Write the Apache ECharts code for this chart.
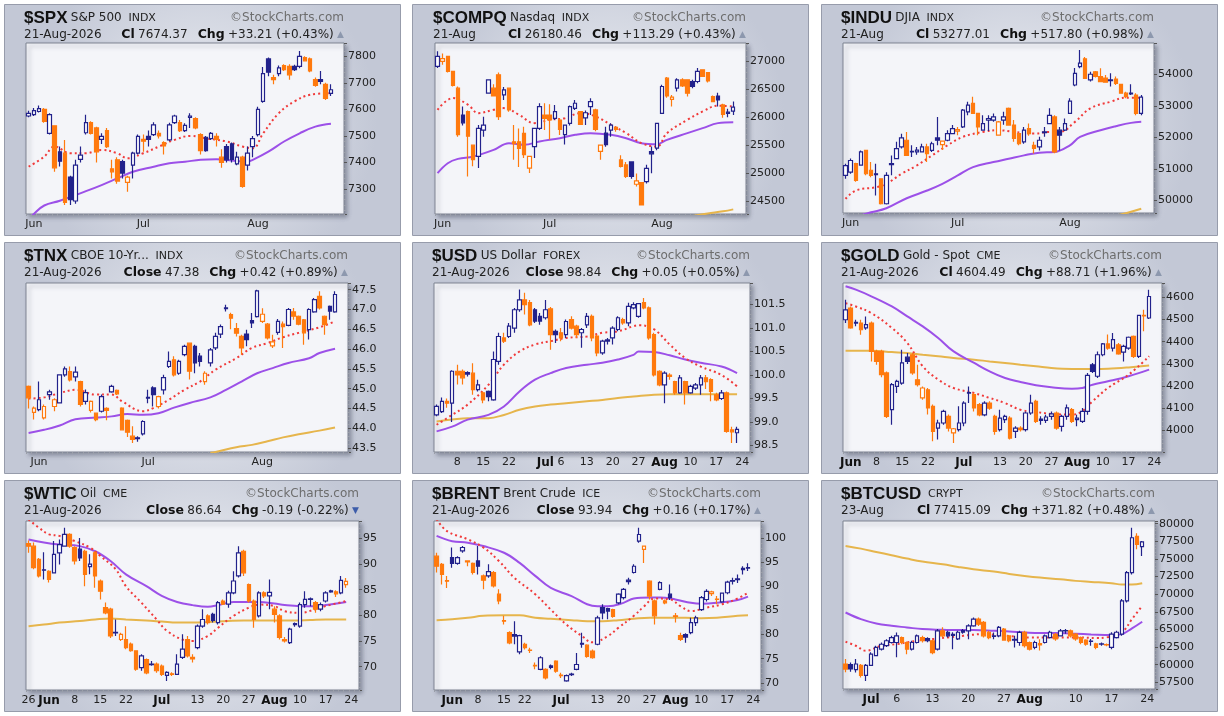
<!DOCTYPE html>
<html>
<head>
<meta charset="utf-8">
<script src="https://cdn.jsdelivr.net/npm/echarts@6/dist/echarts.min.js"></script>
<style>
  html, body { margin: 0; padding: 0; background: #ffffff; }
  #main { width: 1224px; height: 716px; }
</style>
</head>
<body>
<div id="main"></div>
<script>
// candles are [open, close, low, high]; moving averages are [candleIndex, value]
var spxCandles = [
  [7575,7585,7570,7595],[7580,7595,7575,7605],[7592,7603,7588,7615],[7600,7555,7550,7605],[7510,7580,7505,7585],
  [7538,7380,7365,7540],[7440,7405,7385,7460],[7435,7250,7240,7485],[7345,7260,7240,7350],[7255,7390,7245,7410],
  [7412,7428,7400,7460],[7512,7550,7505,7580],[7550,7510,7505,7555],[7530,7440,7400,7535],[7487,7498,7470,7510],
  [7520,7460,7455,7530],[7376,7365,7340,7410],[7410,7330,7320,7420],[7403,7360,7340,7410],[7325,7345,7290,7350],
  [7390,7435,7340,7440],[7435,7498,7430,7505],[7487,7480,7440,7505],[7498,7487,7460,7520],[7505,7542,7500,7552],
  [7510,7500,7490,7520],[7475,7462,7430,7480],[7485,7542,7480,7550],[7550,7575,7545,7580],[7550,7520,7515,7560],
  [7520,7540,7515,7548],[7570,7575,7530,7585],[7565,7530,7525,7570],[7505,7445,7430,7510],[7495,7445,7440,7500],
  [7490,7510,7485,7515],[7498,7487,7460,7510],[7420,7400,7380,7450],[7460,7410,7400,7470],[7470,7412,7400,7475],
  [7395,7420,7390,7440],[7420,7310,7305,7425],[7390,7435,7370,7460],[7460,7490,7420,7500],[7505,7600,7498,7610],
  [7630,7735,7625,7760],[7790,7740,7725,7795],[7720,7712,7695,7730],[7735,7756,7725,7765],[7765,7750,7745,7770],
  [7762,7730,7712,7770],[7762,7750,7745,7768],[7762,7800,7755,7820],[7795,7783,7780,7800],[7790,7745,7740,7795],
  [7712,7690,7685,7720],[7712,7705,7695,7745],[7694,7641,7635,7700],[7660,7674,7650,7695]
];
var spxMa20 = [[0,7384],[3,7422],[5,7460],[8,7435],[11,7435],[14,7447],[17,7435],[19,7416],[22,7435],[25,7460],[28,7485],[31,7500],[34,7491],[38,7479],[41,7460],[43,7454],[45,7510],[48,7586],[51,7630],[54,7655],[58,7661]];
var spxMa50 = [[0,7185],[1,7206],[3,7238],[6,7256],[11,7292],[14,7315],[17,7340],[20,7365],[24,7384],[27,7397],[30,7403],[33,7410],[36,7412],[40,7406],[42,7403],[43,7410],[46,7441],[49,7479],[52,7510],[55,7535],[58,7546]];

var compqCandles = [
  [26910,27090,26880,27180],[27000,27050,26940,27140],[27090,26820,26800,27100],[26820,26570,26550,26830],[26520,25690,25650,26550],
  [26040,25900,25850,26190],[26100,25660,24940,26120],[25500,25240,25120,25510],[25300,25800,25090,25860],[25770,25860,25650,26010],
  [26430,26670,26420,26680],[26520,26380,26370,26590],[26760,26010,25950,26800],[26400,26490,26310,26540],[26520,26130,26100,26530],
  [25560,25525,25240,25860],[25560,25440,25110,25800],[25710,25330,25270,25830],[25090,25300,25000,25310],[25475,25800,25270,25810],
  [25800,26190,25770,26250],[26040,25980,25770,26250],[26040,25950,25600,26230],[25980,26100,25950,26220],[25950,25780,25680,25980],
  [25690,25860,25510,25870],[25890,26190,25850,26210],[26160,26250,26130,26310],[26100,25870,25860,26110],[25990,26080,25860,26120],
  [26190,26280,26040,26340],[26130,25780,25750,26150],[25390,25500,25240,25510],[25715,25510,25470,25830],[25770,25860,25650,25890],
  [25820,25780,25740,25840],[25235,25120,25100,25320],[25145,24940,24910,25200],[25200,24940,24900,25210],[24800,24860,24760,24990],
  [24830,24430,24420,24840],[24845,25085,24815,25150],[25385,25345,24995,25475],[25445,25890,25410,25900],[26070,26550,26060,26580],
  [26700,26380,26350,26720],[26320,26360,26190,26400],[26520,26670,26460,26700],[26670,26560,26540,26700],[26670,26430,26370,26680],
  [26640,26550,26520,26670],[26640,26820,26610,26880],[26850,26730,26720,26860],[26800,26650,26620,26810],[26370,26280,26270,26390],
  [26380,26310,26190,26440],[26220,26050,25990,26240],[26090,26067,26000,26150],[26110,26180,26040,26280]
];
var compqMa20 = [[0,26133],[3,26342],[6,26222],[8,26073],[11,26133],[13,26163],[16,26043],[19,25894],[22,25953],[25,25983],[28,26073],[31,26013],[34,25864],[37,25715],[40,25535],[43,25475],[45,25715],[49,25953],[52,26103],[55,26205],[58,26193]];
var compqMa50 = [[0,24997],[2,25176],[4,25254],[7,25296],[11,25415],[14,25535],[17,25505],[20,25565],[24,25625],[27,25685],[30,25715],[34,25685],[37,25625],[40,25535],[43,25517],[45,25595],[49,25715],[52,25804],[55,25894],[58,25912]];
var compqMa200 = [[50,24230],[53,24275],[56,24315],[58,24350]];

var induCandles = [
  [50800,51110,50690,51170],[50900,51270,50850,51330],[51170,50640,50600,51200],[51120,51540,51100,51590],[51590,50850,50800,51600],
  [50960,50800,50740,51220],[50850,50820,50160,51170],[50690,49900,49880,50700],[49900,50800,49880,50900],[51140,51170,50800,51430],
  [51330,51645,51310,51860],[51700,51985,51650,52120],[51910,51430,51420,52170],[51560,51540,51380,51750],[51540,51600,51450,51700],
  [51540,51700,51530,51800],[51700,51490,51220,51800],[51590,51800,51540,51860],[51985,51910,51750,52650],[51770,51880,51600,51890],
  [51910,52120,51880,52230],[52120,52280,52100,52390],[52200,52250,52070,52330],[52334,52865,52300,52900],[52812,53024,52700,53130],
  [53080,52760,52740,53290],[52760,52330,52070,52770],[52230,52440,52230,52700],[52550,52600,52200,52700],[52550,52650,52500,52760],
  [52070,52490,52050,52520],[52550,52650,52400,52810],[52920,52390,52380,52950],[52390,51970,51860,52550],[52120,51800,51750,52150],
  [51860,52230,51800,52330],[52280,52120,52050,52440],[51750,51650,51490,51860],[51700,51910,51590,52020],[52150,52180,52020,52330],
  [52440,52700,52420,52920],[52650,51540,51500,52700],[52230,52070,51590,52330],[52230,52440,52200,52600],[52760,53150,52740,53240],
  [53660,54030,53620,54200],[54240,54350,54190,54770],[54490,53870,53850,54550],[53820,54000,53770,54080],[54080,53930,53900,54100],
  [53930,53770,53750,54190],[53880,53750,53730,53980],[53800,53820,53610,54030],[53850,53710,53660,53930],[53680,53400,53380,53700],
  [53400,53290,53240,53450],[53380,53400,53340,53680],[53340,52760,52700,53400],[52760,53277,52700,53340]
];
var induMa20 = [[0,50053],[2,50318],[6,50424],[8,50530],[11,50849],[14,51114],[17,51432],[20,51750],[23,52016],[27,52175],[30,52228],[33,52175],[37,52122],[40,52175],[42,52175],[45,52493],[48,52918],[52,53130],[55,53257],[58,53257]];
var induMa50 = [[0,49400],[5,49628],[8,49756],[12,50075],[16,50318],[19,50530],[22,50796],[25,51061],[29,51220],[32,51326],[35,51432],[38,51517],[41,51538],[44,51750],[46,52016],[50,52228],[53,52355],[56,52461],[58,52493]];
var induMa200 = [[53,49520],[55,49600],[58,49740]];

var tnxCandles = [
  [45.06,44.77,44.50,45.08],[44.40,44.51,44.22,44.55],[44.47,44.72,44.43,45.18],[44.26,44.55,44.22,44.60],[44.85,44.92,44.72,44.97],
  [44.55,44.72,44.43,44.76],[44.64,45.35,44.63,45.36],[45.35,45.50,45.30,45.56],[45.43,45.22,45.18,45.56],[45.30,45.42,45.18,45.56],
  [45.18,44.60,44.55,45.20],[44.68,44.90,44.60,44.98],[44.45,44.68,44.40,44.70],[44.38,44.22,44.18,44.40],[44.43,44.80,44.40,44.85],
  [44.50,44.45,44.20,44.53],[44.92,45.06,44.90,45.10],[44.96,44.87,44.84,44.98],[44.51,43.96,43.95,44.53],[44.20,43.90,43.78,44.22],
  [43.80,43.72,43.63,44.05],[43.76,43.74,43.66,43.80],[43.86,44.17,43.82,44.20],[44.76,44.78,44.63,44.97],[45.02,44.85,44.55,45.06],
  [44.55,44.80,44.50,44.82],[44.97,45.28,44.85,45.35],[45.56,45.69,45.52,45.94],[45.73,45.35,45.31,45.82],[45.39,45.69,45.35,45.73],
  [45.86,46.07,45.82,46.11],[46.15,45.44,45.23,46.16],[46.07,45.65,45.39,46.11],[45.82,45.69,45.56,45.90],[45.18,45.39,45.10,45.44],
  [45.65,45.98,45.56,46.03],[46.03,46.32,45.98,46.41],[46.38,46.57,46.28,46.62],[47.02,47.04,46.95,47.12],[46.87,46.78,46.50,46.92],
  [46.52,46.40,46.32,46.66],[46.32,46.03,45.86,46.36],[46.38,46.24,46.07,46.49],[46.72,46.66,46.53,46.91],[46.82,47.47,46.80,47.50],
  [46.70,46.88,46.66,47.03],[46.63,46.28,46.24,46.66],[46.08,46.18,46.03,46.36],[46.42,46.70,46.36,46.76],[46.63,46.57,46.03,46.70],
  [46.60,47.00,46.58,47.04],[46.94,46.83,46.74,47.04],[46.83,46.63,46.60,46.85],[46.74,46.41,46.11,46.76],[46.49,47.00,46.24,47.03],
  [46.94,47.25,46.92,47.29],[47.33,47.04,47.00,47.46],[46.83,46.62,46.36,46.85],[47.08,46.96,46.74,47.10],[46.94,47.38,46.92,47.46]
];
var tnxMa20 = [[0,44.75],[3,44.78],[6,44.89],[9,44.97],[13,44.85],[16,44.85],[18,44.68],[22,44.43],[24,44.51],[27,44.72],[30,44.97],[33,45.18],[36,45.48],[40,45.77],[43,46.03],[46,46.15],[49,46.30],[52,46.41],[56,46.55],[59,46.70]];
var tnxMa50 = [[0,43.88],[3,43.96],[6,44.07],[9,44.23],[13,44.27],[16,44.30],[19,44.36],[22,44.34],[25,44.38],[28,44.52],[31,44.64],[35,44.78],[38,44.97],[41,45.18],[44,45.39],[47,45.52],[50,45.65],[54,45.77],[56,45.90],[59,46.01]];
var tnxMa200 = [[35,43.38],[36,43.40],[40,43.52],[43,43.58],[46,43.67],[49,43.77],[52,43.85],[56,43.94],[59,44.02]];

var usdCandles = [
  [99.15,99.33,99.12,99.37],[99.22,99.44,99.19,99.52],[99.44,99.40,99.30,99.50],[99.40,100.08,99.00,100.10],[100.08,100.00,99.80,100.22],
  [100.08,99.94,99.80,100.12],[100.05,100.02,99.97,100.08],[100.04,99.69,99.58,100.25],[99.69,99.79,99.65,99.90],[99.62,99.47,99.40,99.65],
  [99.65,99.54,99.44,99.67],[99.47,100.33,99.45,100.50],[100.29,100.82,100.22,100.90],[100.79,100.72,100.68,100.90],[100.82,101.04,100.79,101.11],
  [101.00,101.39,100.90,101.43],[101.39,101.60,101.35,101.82],[101.60,101.50,101.29,101.75],[101.54,101.07,101.04,101.60],[101.39,101.15,101.11,101.43],
  [101.25,101.15,101.07,101.32],[101.22,101.39,101.18,101.60],[101.41,100.86,100.54,101.45],[100.93,100.86,100.68,100.97],[100.90,100.79,100.72,101.00],
  [100.86,101.14,100.79,101.18],[101.18,101.00,100.97,101.25],[101.04,100.86,100.79,101.07],[100.90,100.97,100.58,101.00],[101.07,101.25,101.00,101.32],
  [101.25,100.79,100.72,101.29],[100.83,100.47,100.40,100.86],[100.47,100.72,100.43,100.75],[100.72,100.75,100.65,100.79],[100.79,101.00,100.65,101.04],
  [100.97,101.22,100.93,101.25],[101.18,101.11,101.07,101.22],[101.11,101.46,101.04,101.54],[101.43,101.50,101.40,101.55],[101.25,101.52,101.22,101.53],
  [101.54,101.43,101.40,101.64],[101.43,100.79,100.75,101.46],[100.86,100.00,99.97,100.90],[100.08,99.79,99.76,100.10],[99.79,100.04,99.40,100.08],
  [100.00,99.97,99.90,100.04],[99.86,99.62,99.58,99.88],[99.62,99.94,99.60,100.00],[99.86,99.62,99.37,99.88],[99.62,99.76,99.60,99.79],
  [99.72,99.79,99.68,99.83],[99.79,99.94,99.58,100.00],[99.94,99.86,99.70,100.00],[99.90,99.65,99.44,99.93],[99.58,99.47,99.44,99.62],
  [99.50,99.62,99.47,99.68],[99.62,98.80,98.77,99.65],[98.83,98.79,98.55,98.90],[98.77,98.84,98.55,98.90]
];
var usdMa20 = [[0,98.94],[3,99.15],[6,99.37],[10,99.79],[13,100.22],[16,100.50],[19,100.65],[22,100.72],[25,100.79],[29,100.82],[32,100.90],[35,100.93],[38,101.04],[39,101.06],[42,100.97],[45,100.65],[48,100.36],[51,100.18],[55,100.00],[58,99.76]];
var usdMa50 = [[0,98.80],[3,98.90],[6,99.05],[10,99.15],[13,99.33],[16,99.65],[19,99.90],[22,100.04],[25,100.15],[29,100.22],[32,100.26],[35,100.33],[38,100.43],[39,100.50],[42,100.49],[45,100.42],[48,100.33],[51,100.26],[55,100.18],[58,100.04]];
var usdMa200 = [[0,99.01],[3,99.05],[6,99.08],[10,99.08],[13,99.15],[16,99.26],[19,99.33],[22,99.37],[25,99.40],[29,99.44],[32,99.47],[35,99.51],[38,99.54],[42,99.58],[45,99.59],[48,99.59],[51,99.59],[55,99.59],[58,99.59]];

var goldCandles = [
  [4499,4544,4484,4589],[4552,4462,4458,4559],[4487,4484,4470,4499],[4484,4454,4431,4499],[4462,4477,4454,4514],
  [4484,4356,4311,4491],[4356,4311,4296,4364],[4356,4251,4240,4364],[4259,4063,4055,4266],[4093,4206,4025,4213],
  [4198,4221,4168,4228],[4213,4304,4206,4364],[4330,4311,4299,4349],[4341,4259,4251,4349],[4228,4206,4198,4296],
  [4146,4191,4138,4198],[4183,4101,4071,4191],[4108,3995,3950,4116],[4010,4033,3958,4048],[4033,4085,4025,4093],
  [4063,4010,3995,4071],[3988,4007,3943,4010],[4003,4033,3995,4108],[4033,4123,4018,4131],[4170,4168,4123,4198],
  [4161,4101,4085,4168],[4116,4070,4063,4123],[4070,4123,4063,4131],[4123,4100,4093,4131],[4063,3995,3980,4070],
  [4003,4055,3995,4093],[4048,4063,4033,4070],[4055,3965,3958,4063],[3995,4010,3965,4018],[4010,4003,3995,4018],
  [4003,4078,3995,4085],[4078,4123,4070,4161],[4131,4040,4033,4138],[4050,4045,4025,4063],[4045,4060,4033,4070],
  [4063,4074,4048,4085],[4078,4010,4003,4085],[4018,4063,3995,4070],[4063,4101,4048,4116],[4093,4040,4033,4101],
  [4048,4055,4018,4070],[4040,4085,4033,4101],[4085,4248,4070,4259],[4296,4266,4259,4304],[4244,4341,4236,4356],
  [4341,4390,4334,4394],[4390,4371,4364,4432],[4371,4409,4356,4439],[4386,4345,4341,4394],[4353,4379,4311,4386],
  [4371,4420,4364,4424],[4424,4334,4326,4428],[4334,4519,4326,4522],[4519,4516,4447,4544],[4507,4604,4502,4635]
];
var goldMa20 = [[0,4574],[2,4559],[5,4529],[9,4462],[12,4394],[15,4289],[18,4229],[21,4191],[25,4168],[28,4146],[31,4123],[34,4093],[37,4083],[40,4074],[44,4071],[46,4086],[48,4131],[51,4191],[55,4251],[59,4334]];
var goldMa50 = [[0,4650],[2,4635],[5,4605],[9,4559],[12,4514],[15,4469],[18,4417],[21,4356],[25,4304],[28,4266],[31,4236],[34,4218],[37,4203],[40,4194],[44,4188],[46,4191],[48,4206],[51,4221],[55,4244],[59,4274]];
var goldMa200 = [[0,4359],[5,4359],[9,4353],[12,4349],[15,4341],[18,4334],[21,4326],[25,4319],[28,4311],[31,4304],[34,4296],[37,4289],[40,4281],[44,4277],[48,4277],[51,4278],[55,4284],[59,4293]];

var wticCandles = [
  [94.0,93.5,92.2,94.6],[93.5,89.3,89.0,94.2],[90.9,87.7,87.4,91.2],[88.9,88.8,87.0,92.3],[88.6,87.0,86.4,88.8],
  [88.3,91.9,88.2,94.5],[92.2,93.8,89.9,94.8],[93.5,95.8,93.4,97.1],[95.8,93.5,93.2,96.0],[93.2,90.6,89.9,93.5],
  [92.9,91.2,90.6,95.1],[92.5,88.0,85.7,92.8],[89.5,90.0,88.0,91.9],[92.2,87.7,85.4,92.5],[86.7,84.7,83.1,87.0],
  [81.5,80.5,80.2,82.5],[81.2,76.0,75.6,81.5],[76.7,76.6,76.0,79.2],[75.3,76.3,75.0,76.6],[75.3,73.7,73.4,77.9],
  [74.4,73.1,72.9,74.7],[73.1,69.5,69.2,73.2],[69.8,72.1,69.2,72.4],[71.4,68.8,68.5,71.6],[70.5,70.4,70.2,71.1],
  [70.5,69.2,68.8,70.8],[70.1,68.5,68.2,70.4],[68.3,68.9,67.2,69.1],[68.6,68.5,68.2,68.9],[68.5,70.5,68.4,72.4],
  [71.8,73.4,71.5,76.3],[75.3,72.1,71.8,76.0],[71.8,71.5,70.8,72.4],[73.7,77.9,73.4,78.2],[77.9,79.2,77.6,81.2],
  [79.9,78.6,78.2,80.2],[80.2,79.0,78.6,80.5],[78.6,82.5,78.2,82.8],[82.8,82.2,82.0,83.1],[82.2,84.4,81.5,84.8],
  [84.4,86.7,84.1,88.6],[87.7,92.2,87.4,93.5],[92.5,88.3,87.7,92.8],[86.0,82.8,82.5,86.2],[82.8,79.2,77.6,83.1],
  [79.9,84.4,79.6,84.7],[84.4,83.8,83.4,84.7],[83.8,84.5,81.2,87.0],[81.2,80.2,78.6,81.8],[79.9,75.7,75.3,80.2],
  [75.3,75.0,74.7,75.8],[74.7,77.3,74.4,77.6],[78.4,78.2,77.8,78.6],[77.9,82.1,77.6,82.5],[82.1,83.1,81.5,84.7],
  [83.2,83.1,81.8,83.5],[82.5,81.2,80.5,82.8],[81.2,82.1,80.8,82.5],[82.8,84.4,82.5,84.7],[84.6,84.8,84.4,85.0],
  [84.6,84.2,83.6,84.9],[84.4,86.83,84.1,87.7],[86.0,86.64,85.4,87.3]
];
var wticMa20 = [[0,98.7],[2,97.1],[4,95.8],[6,95.5],[9,94.5],[12,93.2],[14,91.6],[17,89.0],[19,85.7],[22,82.5],[25,79.2],[27,77.0],[30,75.3],[32,75.0],[35,76.0],[37,77.6],[40,79.9],[43,81.5],[45,82.1],[48,81.8],[50,80.8],[53,80.5],[56,81.2],[58,81.8],[62,82.8]];
var wticMa50 = [[0,94.8],[3,94.2],[6,93.8],[10,93.5],[13,92.5],[16,90.6],[19,88.0],[23,85.7],[26,83.8],[29,82.6],[32,82.0],[35,81.7],[37,82.0],[40,82.6],[43,82.6],[45,82.6],[48,82.3],[50,82.0],[53,81.8],[56,81.8],[58,82.0],[62,82.6]];
var wticMa200 = [[0,77.9],[3,78.2],[6,78.6],[10,78.9],[13,79.2],[16,79.4],[19,79.2],[23,79.0],[26,78.8],[29,78.6],[32,78.6],[35,78.7],[39,78.9],[42,79.0],[45,79.0],[48,79.0],[52,79.0],[55,79.1],[58,79.2],[62,79.2]];

var brentCandles = [
  [96.3,94.2,92.9,97.0],[94.6,92.5,90.4,94.9],[91.2,91.1,89.7,92.2],[96.0,94.8,93.9,98.1],[94.8,96.0,94.5,96.3],
  [97.4,98.1,97.0,98.4],[95.3,95.1,94.2,95.3],[94.8,92.9,92.5,95.0],[95.3,94.2,92.5,98.4],[92.2,91.3,89.4,92.5],
  [92.2,93.1,91.8,94.6],[92.9,90.1,89.8,93.2],[88.4,87.0,86.3,89.4],[82.9,82.8,82.1,83.9],[80.4,78.3,78.0,80.7],
  [80.0,79.7,78.0,82.8],[76.4,79.8,75.9,80.0],[78.0,77.3,76.9,78.3],[76.8,76.7,76.2,77.3],[73.6,73.5,72.8,74.2],
  [72.8,75.2,72.6,75.5],[72.8,71.0,70.7,73.0],[73.5,73.2,72.8,73.8],[74.5,72.4,72.1,74.7],[71.6,71.5,71.0,72.1],
  [70.4,71.5,70.2,71.7],[71.8,71.7,71.4,72.1],[72.8,73.8,72.6,76.2],[78.2,78.0,77.3,80.4],[77.8,75.5,75.2,78.0],
  [76.6,75.2,75.0,76.9],[78.0,83.5,77.8,83.9],[85.6,84.5,83.2,86.3],[85.4,84.9,83.2,85.6],[85.2,83.8,83.5,85.4],
  [86.6,88.4,86.3,88.6],[87.7,89.4,87.3,89.7],[91.3,91.0,90.4,91.8],[92.9,94.2,92.7,94.6],[99.4,100.8,99.1,102.2],
  [97.7,98.4,94.9,98.4],[91.1,88.0,87.3,91.3],[87.0,83.9,82.1,87.3],[89.4,90.8,89.2,91.1],[87.0,86.6,86.3,87.3],
  [88.4,87.7,87.2,90.4],[83.9,83.8,82.5,84.5],[79.8,79.0,78.7,80.4],[80.0,79.5,78.3,80.3],[80.4,82.5,80.1,83.5],
  [82.5,83.5,81.8,83.9],[85.2,87.7,84.9,88.0],[87.3,89.0,86.9,89.4],[88.5,88.9,88.0,89.1],[87.4,87.3,86.3,88.0],
  [86.8,88.6,86.6,88.7],[88.7,90.9,88.4,91.2],[91.2,91.1,90.4,91.8],[91.4,91.6,90.7,92.5],[93.5,93.78,92.5,94.2],
  [93.8,93.94,93.2,94.8]
];
var brentMa20 = [[0,104.0],[2,101.5],[6,99.8],[9,98.1],[12,95.3],[15,91.8],[19,88.4],[22,85.2],[25,82.1],[28,79.7],[30,78.4],[33,79.7],[35,81.4],[38,83.9],[40,85.9],[42,87.5],[45,87.3],[47,85.9],[49,84.9],[52,85.6],[55,86.3],[58,87.5],[60,88.7]];
var brentMa50 = [[0,100.5],[3,99.4],[6,99.1],[9,98.4],[13,97.0],[16,94.9],[19,92.2],[22,89.7],[26,88.0],[29,86.3],[31,85.9],[33,85.9],[36,86.6],[38,87.5],[41,87.7],[43,87.7],[46,87.3],[49,86.6],[51,86.4],[54,86.6],[58,87.2],[60,87.9]];
var brentMa200 = [[0,83.0],[3,83.2],[6,83.5],[9,83.9],[13,84.0],[16,84.0],[19,83.5],[22,83.3],[26,83.0],[29,82.8],[32,82.8],[35,83.0],[38,83.3],[41,83.5],[45,83.5],[48,83.5],[51,83.4],[54,83.5],[58,83.9],[60,84.0]];

var btcCandles = [
  [60094,59387,58915,60802],[60000,59400,59000,60300],[59300,60100,58900,60800],[59900,58500,58200,60100],[58500,59900,57700,60100],
  [59900,61500,59800,61750],[61300,62450,61200,62700],[62200,62900,62000,63150],[62700,63400,62500,63600],[63150,63850,63000,64100],
  [63150,64100,61050,64580],[63850,63150,62900,64000],[63150,62200,61500,63300],[62200,63150,62000,63400],[63150,64100,63000,64300],
  [63850,63400,63150,64100],[63700,63400,63200,63900],[63400,61700,61500,63500],[62200,64800,62000,65050],[64800,64100,63900,65300],
  [64600,64100,63850,64800],[64300,64150,62200,64600],[63650,64600,63500,64800],[64850,64600,64400,65050],[64800,65500,63600,65750],
  [65500,66470,65400,66700],[66470,65750,65500,66700],[66000,64100,63850,66200],[64600,63850,63600,64800],[64000,64100,63600,64580],
  [64100,65300,63900,65500],[65050,63500,63400,65200],[64100,63400,63200,64200],[63500,63600,62450,64100],[63150,64580,62700,64800],
  [64600,62700,62450,64800],[63150,62200,62000,63300],[62450,63150,62200,63400],[63000,62800,62000,63600],[63150,64100,63000,64300],
  [63850,64600,63700,64800],[64300,63650,63400,64500],[64100,64800,64000,65050],[64800,64850,64400,65050],[64800,64100,63850,65000],
  [64350,63650,63400,64500],[63850,63150,62900,64000],[63500,62900,62700,63600],[63350,63300,62700,63650],[62950,62450,62200,63100],
  [62900,62950,62700,63150],[62800,62850,62600,63000],[62450,64350,62200,64600],[63850,64600,63700,64800],[64350,69050,64100,69300],
  [69050,73070,68820,73300],[73070,78000,72800,79430],[78200,77043,76370,78630],[76750,77415,75420,77540]
];
var btcMa20 = [[0,63254],[2,62688],[4,61981],[7,62688],[10,62924],[14,63396],[17,63632],[20,63868],[23,64104],[27,64340],[30,64198],[33,64010],[36,63868],[40,63868],[43,63868],[46,63868],[49,63774],[51,63868],[54,64576],[56,66462],[58,68349]];
var btcMa50 = [[0,67406],[3,66462],[6,65849],[9,65519],[12,65283],[15,65047],[19,64953],[22,64906],[25,64906],[29,64812],[32,64717],[35,64576],[38,64481],[42,64481],[45,64387],[48,64292],[52,64198],[54,64340],[56,65142],[58,66085]];
var btcMa200 = [[0,76840],[3,76462],[6,75990],[9,75519],[12,75047],[15,74623],[19,74245],[22,73868],[25,73538],[29,73208],[32,72877],[35,72594],[38,72358],[42,72123],[45,71887],[48,71745],[52,71557],[54,71368],[56,71368],[58,71557]];

var stockHolidays = ['2026-05-25', '2026-06-19', '2026-07-03'];

var panels = [
  { sym: '$SPX', name: 'S&P 500', exch: 'INDX', date: '21-Aug-2026', lastTag: 'Cl', last: '7674.37', chg: '+33.21 (+0.43%)', up: true,
    start: '2026-05-29', cal: 'stock', hol: stockHolidays, ticks: 'month', ymin: 7206, ymax: 7850, step: 100, dec: 0,
    candles: spxCandles, ma20: spxMa20, ma50: spxMa50, ma200: null, box: [4, 4], grid: [26, 43, 318, 171] },
  { sym: '$COMPQ', name: 'Nasdaq', exch: 'INDX', date: '21-Aug', lastTag: 'Cl', last: '26180.46', chg: '+113.29 (+0.43%)', up: true,
    start: '2026-05-29', cal: 'stock', hol: stockHolidays, ticks: 'month', ymin: 24267, ymax: 27329, step: 500, dec: 0,
    candles: compqCandles, ma20: compqMa20, ma50: compqMa50, ma200: compqMa200, box: [412, 4], grid: [435, 43, 311, 171] },
  { sym: '$INDU', name: 'DJIA', exch: 'INDX', date: '21-Aug', lastTag: 'Cl', last: '53277.01', chg: '+517.80 (+0.98%)', up: true,
    start: '2026-05-29', cal: 'stock', hol: stockHolidays, ticks: 'month', ymin: 49607, ymax: 54990, step: 1000, dec: 0,
    candles: induCandles, ma20: induMa20, ma50: induMa50, ma200: induMa200, box: [821, 4], grid: [843, 43, 311, 170] },
  { sym: '$TNX', name: 'CBOE 10-Yr...', exch: 'INDX', date: '21-Aug-2026', lastTag: 'Close', last: '47.38', chg: '+0.42 (+0.89%)', up: true,
    start: '2026-05-28', cal: 'stock', hol: stockHolidays, ticks: 'month', ymin: 43.4, ymax: 47.67, step: 0.5, dec: 1,
    candles: tnxCandles, ma20: tnxMa20, ma50: tnxMa50, ma200: tnxMa200, box: [4, 242], grid: [26, 283, 322, 169] },
  { sym: '$USD', name: 'US Dollar', exch: 'FOREX', date: '21-Aug-2026', lastTag: 'Close', last: '98.84', chg: '+0.05 (+0.05%)', up: true,
    start: '2026-06-02', cal: 'fx', hol: [], ticks: 'week', ymin: 98.36, ymax: 101.96, step: 0.5, dec: 1,
    candles: usdCandles, ma20: usdMa20, ma50: usdMa50, ma200: usdMa200, box: [412, 242], grid: [434, 283, 316, 169] },
  { sym: '$GOLD', name: 'Gold - Spot', exch: 'CME', date: '21-Aug-2026', lastTag: 'Cl', last: '4604.49', chg: '+88.71 (+1.96%)', up: true,
    start: '2026-05-29', cal: 'fx', hol: ['2026-05-25', '2026-07-03'], ticks: 'week', ymin: 3902, ymax: 4665, step: 100, dec: 0,
    candles: goldCandles, ma20: goldMa20, ma50: goldMa50, ma200: goldMa200, box: [821, 242], grid: [843, 283, 319, 169] },
  { sym: '$WTIC', name: 'Oil', exch: 'CME', date: '21-Aug-2026', lastTag: 'Close', last: '86.64', chg: '-0.19 (-0.22%)', up: false,
    start: '2026-05-26', cal: 'fx', hol: ['2026-05-25', '2026-07-03'], ticks: 'week', ymin: 65.45, ymax: 98.4, step: 5, dec: 0,
    candles: wticCandles, ma20: wticMa20, ma50: wticMa50, ma200: wticMa200, box: [4, 480], grid: [26, 521, 333, 169] },
  { sym: '$BRENT', name: 'Brent Crude', exch: 'ICE', date: '21-Aug-2026', lastTag: 'Close', last: '93.94', chg: '+0.16 (+0.17%)', up: true,
    start: '2026-05-27', cal: 'fx', hol: stockHolidays, ticks: 'week', ymin: 68.5, ymax: 103.6, step: 5, dec: 0,
    candles: brentCandles, ma20: brentMa20, ma50: brentMa50, ma200: brentMa200, box: [412, 480], grid: [434, 521, 327, 169] },
  { sym: '$BTCUSD', name: '', exch: 'CRYPT', date: '23-Aug', lastTag: 'Cl', last: '77415.09', chg: '+371.82 (+0.48%)', up: true,
    start: '2026-06-26', cal: 'crypto', hol: [], ticks: 'week', ymin: 56556, ymax: 80377, step: 2500, dec: 0,
    candles: btcCandles, ma20: btcMa20, ma50: btcMa50, ma200: btcMa200, box: [821, 480], grid: [843, 521, 312, 168] }
];

var NAVY = '#22228c', ORANGE = '#ff7a0e';
var MON = ['Jan', 'Feb', 'Mar', 'Apr', 'May', 'Jun', 'Jul', 'Aug', 'Sep', 'Oct', 'Nov', 'Dec'];
var DAY = 86400000;
var FONT = 'DejaVu Sans';

function isOpen(t, cal, hol) {
  var d = new Date(t);
  if (cal !== 'crypto') {
    var w = d.getUTCDay();
    if (w === 0 || w === 6) return false;
  }
  return hol.indexOf(d.toISOString().slice(0, 10)) < 0;
}
function nextOpen(t, dir, cal, hol) {
  do { t += dir * DAY; } while (!isOpen(t, cal, hol));
  return t;
}
function makeDays(p) {
  var out = [Date.parse(p.start + 'T00:00:00Z')];
  while (out.length < p.candles.length + 2) out.push(nextOpen(out[out.length - 1], 1, p.cal, p.hol));
  return out;
}
function monday(t) { return t - ((new Date(t).getUTCDay() + 6) % 7) * DAY; }

// month names at month starts; in weekly mode also day numbers at week starts
function makeLabels(days, p) {
  var lab = {}, monthIdx = [];
  days.forEach(function (t, i) {
    var prev = i ? days[i - 1] : nextOpen(t, -1, p.cal, p.hol);
    if (new Date(prev).getUTCMonth() !== new Date(t).getUTCMonth()) {
      lab[i] = (p.ticks === 'week' ? '{m|' : '{n|') + MON[new Date(t).getUTCMonth()] + '}';
      monthIdx.push(i);
    }
  });
  if (p.ticks === 'week') {
    days.forEach(function (t, i) {
      var prev = i ? days[i - 1] : nextOpen(t, -1, p.cal, p.hol);
      if (lab[i] || monday(prev) === monday(t)) return;
      for (var k = 0; k < monthIdx.length; k++) if (Math.abs(monthIdx[k] - i) <= 2) return;
      lab[i] = '{n|' + new Date(t).getUTCDate() + '}';
    });
  }
  return lab;
}

function candleItems(rows) {
  return rows.map(function (r, i) {
    var prev = i > 0 ? rows[i - 1][1] : r[0];
    var col = r[1] >= prev ? NAVY : ORANGE;
    var fill = r[1] > r[0] ? '#ffffff' : col;
    return { value: r, itemStyle: { color: fill, color0: fill, borderColor: col, borderColor0: col, borderWidth: 1.2 } };
  });
}

var grids = [], xAxes = [], yAxes = [], series = [], graphics = [];

panels.forEach(function (p, i) {
  var days = makeDays(p);
  var labels = makeLabels(days, p);
  var g = p.grid;

  graphics.push({
    type: 'rect', z: -100, silent: true,
    shape: { x: p.box[0] + 0.5, y: p.box[1] + 0.5, width: 396, height: 231 },
    style: {
      fill: new echarts.graphic.RadialGradient(0.5, 0.5, 0.75, [
        { offset: 0, color: '#eceef3' }, { offset: 1, color: '#c3c8d6' }
      ]),
      stroke: '#979cab', lineWidth: 1
    }
  });
  graphics.push({
    type: 'text', x: g[0] - 2, y: p.box[1] + 14, z: 10, silent: true,
    style: {
      text: '{s|' + p.sym + '} ' + (p.name ? '{n|' + p.name + '}  ' : ' ') + '{x|' + p.exch + '}',
      align: 'left', verticalAlign: 'middle',
      rich: {
        s: { fontFamily: 'Liberation Sans', fontWeight: 'bold', fontSize: 17, fill: '#111' },
        n: { fontFamily: FONT, fontSize: 12, fill: '#222' },
        x: { fontFamily: FONT, fontSize: 11, fill: '#222' }
      }
    }
  });
  graphics.push({
    type: 'text', x: g[0] + g[2], y: p.box[1] + 14, z: 10, silent: true,
    style: { text: '\u00A9StockCharts.com', align: 'right', verticalAlign: 'middle', fontFamily: FONT, fontSize: 12, fill: '#6d6d6d' }
  });
  graphics.push({
    type: 'text', x: g[0] - 2, y: p.box[1] + 31, z: 10, silent: true,
    style: { text: p.date, align: 'left', verticalAlign: 'middle', fontFamily: FONT, fontSize: 12, fill: '#222' }
  });
  graphics.push({
    type: 'text', x: g[0] + g[2], y: p.box[1] + 31, z: 10, silent: true,
    style: {
      text: '{b|' + p.lastTag + '} {v|' + p.last + '}   {b|Chg} {v|' + p.chg + '} ' + (p.up ? '{tu|\u25B2}' : '{td|\u25BC}'),
      align: 'right', verticalAlign: 'middle',
      rich: {
        b: { fontFamily: FONT, fontWeight: 'bold', fontSize: 12.5, fill: '#111' },
        v: { fontFamily: FONT, fontSize: 12, fill: '#222' },
        tu: { fontFamily: FONT, fontSize: 9, fill: '#8d98ae' },
        td: { fontFamily: FONT, fontSize: 9, fill: '#3c5caa' }
      }
    }
  });

  grids.push({
    left: g[0], top: g[1], width: g[2], height: g[3], containLabel: false, outerBoundsMode: 'none',
    show: true, backgroundColor: '#f4f5f9', borderColor: '#7d8290', borderWidth: 1,
    shadowColor: 'rgba(70,75,95,0.45)', shadowBlur: 4, shadowOffsetX: 3, shadowOffsetY: 3
  });

  xAxes.push({
    type: 'category', gridIndex: i, boundaryGap: true,
    data: days.map(function (t) { return new Date(t).toISOString().slice(0, 10); }),
    axisLine: { show: false }, splitLine: { show: false },
    axisTick: { show: true, interval: 0, length: 2, lineStyle: { color: '#9a9ea8' } },
    axisLabel: {
      margin: 5,
      interval: function (idx) { return labels[idx] !== undefined; },
      formatter: function (v, idx) { return labels[idx] || ''; },
      rich: {
        m: { fontFamily: FONT, fontWeight: 'bold', fontSize: 12, color: '#111' },
        n: { fontFamily: FONT, fontSize: 11, color: '#222' }
      }
    }
  });

  yAxes.push({
    type: 'value', gridIndex: i, position: 'right', scale: true,
    min: p.ymin, max: p.ymax, minInterval: p.step, maxInterval: p.step,
    splitLine: { show: false }, axisLine: { show: false },
    axisTick: { show: true, length: 3, lineStyle: { color: '#555' } },
    minorTick: { show: true, splitNumber: 5, length: 2, lineStyle: { color: '#9a9ea8' } },
    axisLabel: {
      margin: 4, fontFamily: FONT, fontSize: 11, color: '#222',
      formatter: function (v) {
        var q = v / p.step;
        if (Math.abs(q - Math.round(q)) > 1e-6) return '';
        return v.toFixed(p.dec);
      }
    }
  });

  var lineBase = { type: 'line', xAxisIndex: i, yAxisIndex: i, smooth: 0.4, symbol: 'none', silent: true, z: 2, clip: true };
  if (p.ma200) series.push(Object.assign({}, lineBase, { data: p.ma200, lineStyle: { color: '#e6b54c', width: 2 } }));
  series.push(Object.assign({}, lineBase, { data: p.ma50, lineStyle: { color: '#9c50e8', width: 2 } }));
  series.push(Object.assign({}, lineBase, { data: p.ma20, lineStyle: { color: '#f03a3a', width: 2, type: [2, 3] } }));
  series.push({
    type: 'candlestick', xAxisIndex: i, yAxisIndex: i, z: 3, silent: true,
    barWidth: '78%', data: candleItems(p.candles)
  });
});

var chart = echarts.init(document.getElementById('main'));
chart.setOption({
  animation: false,
  backgroundColor: '#ffffff',
  grid: grids,
  xAxis: xAxes,
  yAxis: yAxes,
  graphic: graphics,
  series: series
});
window.addEventListener('resize', function () { chart.resize(); });
</script>
</body>
</html>
